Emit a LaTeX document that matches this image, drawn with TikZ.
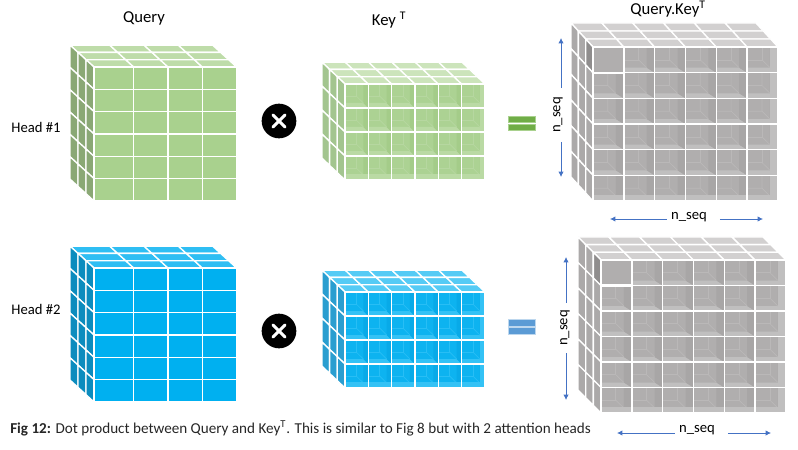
\documentclass[tikz,border=0pt]{standalone}
\usepackage{fontspec}
\setmainfont{Carlito}
\usetikzlibrary{arrows.meta}
\definecolor{seqblue}{HTML}{4472C4}
\tikzset{
  cell/.style={draw=white,line width=1pt},
  green front/.style={cell,fill={rgb,255:red,169;green,209;blue,142}},
  green top/.style={cell,fill={rgb,255:red,190;green,220;blue,169}},
  green side/.style={cell,fill={rgb,255:red,138;green,168;blue,117}},
  blue front/.style={cell,fill={rgb,255:red,0;green,176;blue,240}},
  blue top/.style={cell,fill={rgb,255:red,47;green,190;blue,243}},
  blue side/.style={cell,fill={rgb,255:red,12;green,140;blue,190}},
  glassgreen front/.style={cell},
  glassgreen top/.style={cell,fill={rgb,255:red,204;green,228;blue,187}},
  glassgreen side/.style={cell,fill={rgb,255:red,163;green,197;blue,143}},
  glassgreen wall/.style={fill={rgb,255:red,172;green,210;blue,147}},
  glassgreen floor/.style={fill={rgb,255:red,186;green,218;blue,164}},
  glassgreen rwall/.style={fill={rgb,255:red,164;green,204;blue,137}},
  glassgreen seam/.style={draw={rgb,255:red,182;green,215;blue,160},line width=.5pt},
  glassblue front/.style={cell},
  glassblue top/.style={cell,fill={rgb,255:red,85;green,203;blue,245}},
  glassblue side/.style={cell,fill={rgb,255:red,42;green,158;blue,208}},
  glassblue wall/.style={fill={rgb,255:red,13;green,179;blue,240}},
  glassblue floor/.style={fill={rgb,255:red,52;green,194;blue,245}},
  glassblue rwall/.style={fill={rgb,255:red,8;green,170;blue,232}},
  glassblue seam/.style={draw={rgb,255:red,40;green,190;blue,245},line width=.5pt},
  glassgrey front/.style={cell},
  glassgrey top/.style={cell,fill={rgb,255:red,210;green,208;blue,208}},
  glassgrey side/.style={cell,fill={rgb,255:red,171;green,169;blue,169}},
  glassgrey wall/.style={fill={rgb,255:red,176;green,174;blue,174}},
  glassgrey floor/.style={fill={rgb,255:red,192;green,191;blue,191}},
  glassgrey rwall/.style={fill={rgb,255:red,168;green,166;blue,166}},
  glassgrey seam/.style={draw={rgb,255:red,186;green,184;blue,184},line width=.5pt},
  pickedcell/.style={draw=white,line width=1.6pt,fill={rgb,255:red,176;green,174;blue,174}},
  pickedside/.style={cell,fill={rgb,255:red,143;green,141;blue,141}},
  title/.style={font=\fontsize{12.5}{14}\selectfont,inner sep=0pt},
  head/.style={font=\fontsize{11}{12}\selectfont,inner sep=0pt},
  seqlabel/.style={font=\fontsize{11}{12}\selectfont,inner sep=3pt},
  seqarrow/.style={draw=seqblue,line width=.6pt,-{Latex[length=4pt,width=4pt]}},
  timesdot/.style={circle,fill=black,inner sep=0pt,minimum size=26pt},
  timesline/.style={draw=white,line width=2.2pt,line cap=round},
  eqgreen/.style={rectangle,inner sep=0pt,minimum width=20.5pt,minimum height=5pt,fill={rgb,255:red,112;green,173;blue,71},draw={rgb,255:red,169;green,209;blue,142},line width=.5pt},
  eqblue/.style={rectangle,inner sep=0pt,minimum width=20.5pt,minimum height=5pt,fill={rgb,255:red,91;green,155;blue,213},draw={rgb,255:red,189;green,215;blue,238},line width=.5pt},
}
\newcommand{\firstwide}{0}
% x y cellw cellh cols rows dx dy look
\newcommand{\gridcube}[9]{%
  \foreach \lay in {2,1,0} {
    \pgfmathsetmacro{\ox}{#1-\lay*#7}
    \pgfmathsetmacro{\oy}{#2-\lay*#8}
    \foreach \col in {1,...,#5} {
      \pgfmathsetmacro{\cx}{\ox+(\col-1)*#3+(\col>1)*\firstwide}
      \pgfmathsetmacro{\cw}{#3+(\col==1)*\firstwide}
      \draw[#9 top] (\cx,\oy) -- ++(\cw,0) -- ++(-#7,-#8) -- ++(-\cw,0) -- cycle;
    }
    \foreach \row in {1,...,#6} {
      \draw[#9 side] (\ox,{\oy+(\row-1)*#4}) -- ++(0,#4) -- ++(-#7,-#8) -- ++(0,-#4) -- cycle;
    }
  }
  \foreach \row in {1,...,#6} {
    \foreach \col in {1,...,#5} {
      \pgfmathsetmacro{\cx}{#1+(\col-1)*#3+(\col>1)*\firstwide}
      \pgfmathsetmacro{\cw}{#3+(\col==1)*\firstwide}
      \draw[#9 front] (\cx,{#2+(\row-1)*#4}) rectangle ++(\cw,#4);
    }
  }
}
% x y cellw cellh cols rows rightwall floor look
\newcommand{\glasscells}[9]{%
  \foreach \row in {1,...,#6} {
    \foreach \col in {1,...,#5} {
      \pgfmathsetmacro{\cx}{#1+(\col-1)*#3}
      \pgfmathsetmacro{\cy}{#2+(\row-1)*#4}
      \fill[#9 wall] (\cx,\cy) rectangle ++(#3,#4);
      \fill[#9 floor] (\cx,{\cy+#4}) -- ++(#3,0) -- ++(-#7,-#8) -- ++({#7-#3},0) -- cycle;
      \fill[#9 rwall] ({\cx+#3},\cy) -- ++(0,#4) -- ++(-#7,-#8) -- ++(0,{#8-#4}) -- cycle;
      \draw[#9 seam] ({\cx+.48*#3},\cy) -- ++(0,{.5*#4}) -- (\cx,{\cy+.5*#4});
      \draw[#9 seam] ({\cx+.48*#3},{\cy+.5*#4}) -- ({\cx+#3-#7},{\cy+#4-#8});
    }
  }
  % lighter outer cells
  \foreach \row in {1,...,#6} {
    \fill[#9 floor] ({#1+#5*#3-#7},{#2+(\row-1)*#4}) rectangle ({#1+#5*#3},{#2+\row*#4});
  }
  \foreach \col in {1,...,#5} {
    \fill[#9 floor] ({#1+(\col-1)*#3},{#2+#6*#4-#8-1}) rectangle ({#1+\col*#3},{#2+#6*#4});
  }
  \foreach \row in {1,...,#6} {
    \foreach \col in {1,...,#5} {
      \draw[cell] ({#1+(\col-1)*#3},{#2+(\row-1)*#4}) rectangle ++(#3,#4);
    }
  }
}
\begin{document}
\begin{tikzpicture}[x=.75pt,y=-.75pt]
  \useasboundingbox (0,0) rectangle (798,449);
  % first head
  \renewcommand{\firstwide}{5.4}
  \gridcube{94}{67}{34.3}{22.33}{4}{6}{8}{7.3}{green}
  \renewcommand{\firstwide}{0}
  \gridcube{345}{84}{23.33}{24}{6}{4}{7.7}{7.3}{glassgreen}
  \glasscells{345}{84}{23.33}{24}{6}{4}{5}{5}{glassgreen}
  \gridcube{593}{47}{30.83}{25.67}{6}{6}{7.33}{8}{glassgrey}
  \glasscells{593}{47}{30.83}{25.67}{6}{6}{8}{5}{glassgrey}
  \draw[pickedside] (593,47) -- (593,72.7) -- ++(-7.33,-8) -- ++(0,-25.67) -- cycle;
  \draw[pickedcell] (593,47) rectangle ++(30.83,25.67);
  % second head
  \renewcommand{\firstwide}{5.4}
  \gridcube{94}{268}{34.3}{22.33}{4}{6}{8}{7.3}{blue}
  \renewcommand{\firstwide}{0}
  \gridcube{345}{292}{23.33}{24}{6}{4}{7.7}{7.3}{glassblue}
  \glasscells{345}{292}{23.33}{24}{6}{4}{5}{5}{glassblue}
  \gridcube{601}{260}{30.83}{25.5}{6}{6}{7.67}{7.67}{glassgrey}
  \glasscells{601}{260}{30.83}{25.5}{6}{6}{8}{5}{glassgrey}
  \draw[pickedside] (601,260) -- (601,285.5) -- ++(-7.67,-7.67) -- ++(0,-25.5) -- cycle;
  \draw[pickedcell] (601,260) rectangle ++(30.83,25.5);
  % titles
  \node[title] (querytitle) at (144,18) {Query};
  \node[title] (keytitle) at (389,20) {Key \textsuperscript{T}};
  \node[title] (producttitle) at (668,9) {Query.Key\textsuperscript{T}};
  \node[head] (headone) at (36,127) {Head \#1};
  \node[head] (headtwo) at (36,309) {Head \#2};
  % operators
  \node[timesdot] (timesone) at (279,121) {};
  \node[timesdot] (timestwo) at (279,331) {};
  \draw[timesline] ([shift={(-6,-6)}]timesone.center) -- ([shift={(6,6)}]timesone.center);
  \draw[timesline] ([shift={(-6,6)}]timesone.center) -- ([shift={(6,-6)}]timesone.center);
  \draw[timesline] ([shift={(-6,-6)}]timestwo.center) -- ([shift={(6,6)}]timestwo.center);
  \draw[timesline] ([shift={(-6,6)}]timestwo.center) -- ([shift={(6,-6)}]timestwo.center);
  \node[eqgreen] (equalsonea) at (522,119.5) {};
  \node[eqgreen] (equalsoneb) at (522,127.5) {};
  \node[eqblue] (equalstwoa) at (522,322.5) {};
  \node[eqblue] (equalstwob) at (522,331) {};
  % sizes
  \node[seqlabel,rotate=90] (seqone) at (558,115) {n\_seq};
  \coordinate (seqoneup) at (561,38);
  \coordinate (seqonedown) at (561,177);
  \draw[seqarrow,shorten <=3.5pt] (seqone.east -| seqoneup) -- (seqoneup);
  \draw[seqarrow,shorten <=3.5pt] (seqone.west -| seqonedown) -- (seqonedown);
  \node[seqlabel] (seqonex) at (689,217) {n\_seq};
  \coordinate (seqonexleft) at (610,219);
  \coordinate (seqonexright) at (763,219);
  \draw[seqarrow] (seqonex.west |- seqonexleft) -- (seqonexleft);
  \draw[seqarrow,shorten <=6.5pt] (seqonex.east |- seqonexright) -- (seqonexright);
  \node[seqlabel,rotate=90] (seqtwo) at (565,328) {n\_seq};
  \coordinate (seqtwoup) at (566,257);
  \coordinate (seqtwodown) at (566,400);
  \draw[seqarrow,shorten <=2.5pt] (seqtwo.east -| seqtwoup) -- (seqtwoup);
  \draw[seqarrow,shorten <=2.5pt] (seqtwo.west -| seqtwodown) -- (seqtwodown);
  \node[seqlabel] (seqtwox) at (697,430) {n\_seq};
  \coordinate (seqtwoxleft) at (617,433);
  \coordinate (seqtwoxright) at (771,433);
  \draw[seqarrow] (seqtwox.west |- seqtwoxleft) -- (seqtwoxleft);
  \draw[seqarrow,shorten <=6.5pt] (seqtwox.east |- seqtwoxright) -- (seqtwoxright);
  % caption
  \node[anchor=base west,inner sep=0pt,font=\fontsize{11.35}{12}\selectfont,text=black!85] (caption) at (10,433) {\textbf{Fig 12:} Dot product between Query and Key\textsuperscript{T}. This is similar to Fig 8 but with 2 attention heads};
\end{tikzpicture}
\end{document}
